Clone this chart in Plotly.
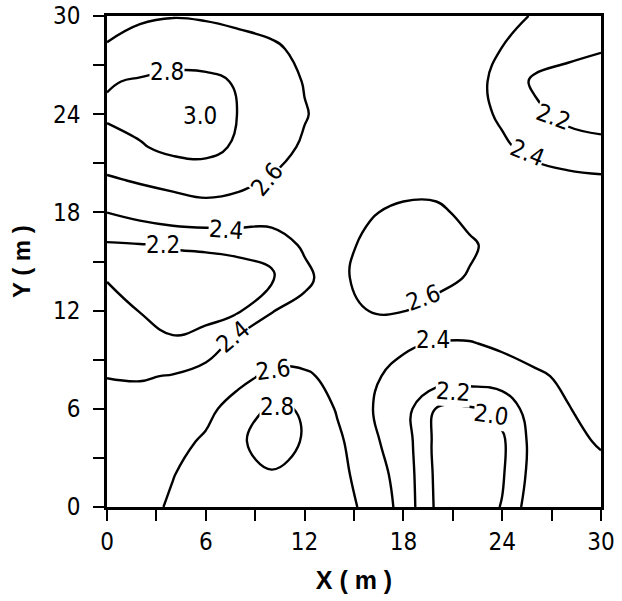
import plotly.graph_objects as go

# Sampling grid (metres)
x_m = [0, 2, 4, 6, 8, 10, 12, 14, 16, 18, 20, 22, 24, 26, 28, 30]
y_m = [0, 2, 4, 6, 8, 10, 12, 14, 16, 18, 20, 22, 24, 26, 28, 30]

# Measured values, one row per y (bottom to top), columns follow x_m
z_y00 = [2.50, 2.55, 2.62, 2.68, 2.72, 2.74, 2.72, 2.66, 2.56, 2.33, 1.97, 1.88, 2.01, 2.34, 2.32, 2.34]
z_y02 = [2.50, 2.54, 2.595, 2.66, 2.73, 2.79, 2.75, 2.66, 2.50, 2.32, 1.96, 1.88, 1.98, 2.29, 2.33, 2.37]
z_y04 = [2.50, 2.53, 2.56, 2.618, 2.78, 2.86, 2.79, 2.64, 2.44, 2.30, 1.95, 1.90, 1.97, 2.28, 2.37, 2.411]
z_y06 = [2.47, 2.48, 2.52, 2.565, 2.66, 2.84, 2.78, 2.58, 2.41, 2.28, 1.99, 1.98, 2.06, 2.32, 2.395, 2.445]
z_y08 = [2.395, 2.385, 2.41, 2.50, 2.56, 2.63, 2.62, 2.56, 2.42, 2.36, 2.31, 2.30, 2.32, 2.38, 2.424, 2.45]
z_y10 = [2.30, 2.28, 2.22, 2.26, 2.48, 2.52, 2.52, 2.52, 2.48, 2.42, 2.39, 2.39, 2.43, 2.46, 2.48, 2.48]
z_y12 = [2.27, 2.195, 2.14, 2.15, 2.18, 2.39, 2.49, 2.54, 2.605, 2.605, 2.56, 2.53, 2.51, 2.50, 2.49, 2.48]
z_y14 = [2.19, 2.15, 2.13, 2.13, 2.15, 2.18, 2.33, 2.57, 2.65, 2.67, 2.64, 2.59, 2.54, 2.52, 2.50, 2.49]
z_y16 = [2.18, 2.19, 2.21, 2.22, 2.23, 2.25, 2.44, 2.56, 2.63, 2.66, 2.66, 2.62, 2.55, 2.50, 2.48, 2.47]
z_y18 = [2.401, 2.47, 2.53, 2.56, 2.55, 2.53, 2.52, 2.54, 2.59, 2.63, 2.63, 2.56, 2.50, 2.47, 2.45, 2.44]
z_y20 = [2.58, 2.62, 2.64, 2.65, 2.63, 2.59, 2.55, 2.52, 2.52, 2.54, 2.54, 2.50, 2.47, 2.45, 2.44, 2.43]
z_y22 = [2.72, 2.78, 2.86, 2.88, 2.76, 2.66, 2.58, 2.53, 2.51, 2.50, 2.48, 2.46, 2.42, 2.36, 2.30, 2.25]
z_y24 = [2.83, 2.88, 2.94, 2.98, 2.79, 2.68, 2.61, 2.53, 2.51, 2.50, 2.48, 2.45, 2.38, 2.25, 2.14, 2.12]
z_y26 = [2.785, 2.82, 2.86, 2.85, 2.78, 2.70, 2.59, 2.53, 2.51, 2.50, 2.48, 2.45, 2.36, 2.16, 2.12, 2.13]
z_y28 = [2.62, 2.66, 2.68, 2.68, 2.66, 2.62, 2.57, 2.53, 2.51, 2.50, 2.48, 2.45, 2.398, 2.33, 2.26, 2.21]
z_y30 = [2.52, 2.58, 2.595, 2.585, 2.56, 2.55, 2.53, 2.52, 2.51, 2.50, 2.49, 2.47, 2.44, 2.39, 2.34, 2.31]

z_rows = [z_y00, z_y02, z_y04, z_y06, z_y08, z_y10, z_y12, z_y14,
          z_y16, z_y18, z_y20, z_y22, z_y24, z_y26, z_y28, z_y30]

# Contour levels
level_start, level_end, level_step = 2.0, 3.0, 0.2

# Inline contour labels: level value, anchor point and text angle
label_level = [2.8, 2.6, 2.4, 2.2, 2.4, 2.6, 2.4, 2.2, 2.6, 2.8, 2.4, 2.2, 2.0]
label_x = [3.64, 9.7, 7.2, 3.4, 7.65, 19.2, 25.5, 27.1, 10.1, 10.3, 19.8, 21.0, 23.3]
label_y = [26.6, 20.0, 16.9, 16.0, 10.4, 12.8, 21.6, 23.8, 8.4, 6.1, 10.2, 7.0, 5.6]
label_angle = [0, -50, 4, 0, -40, -20, 22, 20, -8, 0, 0, 4, 8]

# Local maximum marked by value
peak_x, peak_y, peak_value = 5.65, 23.9, 3.0

# Axis ticks
tick_vals = [0, 3, 6, 9, 12, 15, 18, 21, 24, 27, 30]
tick_text = ["0", "", "6", "", "12", "", "18", "", "24", "", "30"]

num_font = "DejaVu Sans Condensed, Liberation Sans, sans-serif"

fig = go.Figure()
fig.add_trace(go.Contour(
    x=x_m, y=y_m, z=z_rows,
    contours=dict(start=level_start, end=level_end, size=level_step,
                  coloring="lines", showlabels=False),
    colorscale=[[0, "black"], [1, "black"]],
    showscale=False,
    line=dict(width=2.4, smoothing=1.2),
    hoverinfo="skip",
))

annotations = []
for lv, lx, ly, ang in zip(label_level, label_x, label_y, label_angle):
    annotations.append(dict(
        x=lx, y=ly, xref="x", yref="y", text=f"{lv:.1f}", showarrow=False,
        textangle=ang, bgcolor="white", borderpad=0,
        font=dict(family=num_font, size=24, color="#000000"),
    ))
annotations.append(dict(
    x=peak_x, y=peak_y, xref="x", yref="y", text=f"{peak_value:.1f}",
    showarrow=False, font=dict(family=num_font, size=24, color="#000000"),
))
annotations.append(dict(
    x=-0.173, y=0.5, xref="paper", yref="paper", text="<b>Y ( m )</b>", showarrow=False,
    textangle=-90, font=dict(family="Liberation Sans, sans-serif", size=24, color="#000000"),
    xanchor="center", yanchor="middle",
))

axis_common = dict(
    range=[0, 30], tickmode="array", tickvals=tick_vals, ticktext=tick_text,
    ticks="outside", ticklen=11, tickwidth=2, tickcolor="black",
    showline=True, linewidth=2.5, linecolor="black", mirror=True,
    showgrid=False, zeroline=False, automargin=False,
    tickfont=dict(family=num_font, size=24, color="#000000"),
)

fig.update_layout(
    width=622, height=601,
    margin=dict(l=107, r=21, t=16, b=94),
    paper_bgcolor="white", plot_bgcolor="white",
    xaxis=dict(**axis_common,
               title=dict(text="<b>X ( m )</b>", standoff=17,
                          font=dict(family="Liberation Sans, sans-serif", size=25, color="#000000"))),
    yaxis=dict(**axis_common, ticklabelstandoff=8),
    annotations=annotations,
    showlegend=False,
)

fig.write_html("out.html")
